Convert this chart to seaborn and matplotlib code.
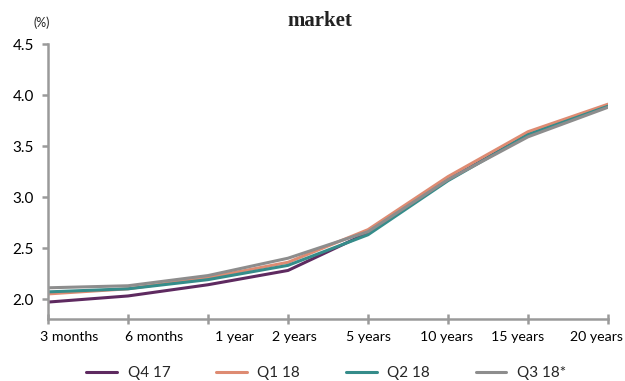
import matplotlib
matplotlib.use("Agg")
import matplotlib.pyplot as plt
import matplotlib.transforms as mtransforms
import seaborn as sns
import pandas as pd

# Yield curve by tenor for four quarters (%)
tenors = ["3 months", "6 months", "1 year", "2 years",
          "5 years", "10 years", "15 years", "20 years"]
q4_17 = [1.97, 2.03, 2.14, 2.28, 2.65, 3.17, 3.61, 3.89]
q1_18 = [2.05, 2.10, 2.21, 2.36, 2.68, 3.20, 3.64, 3.91]
q2_18 = [2.07, 2.10, 2.19, 2.33, 2.63, 3.16, 3.61, 3.89]
q3_18 = [2.11, 2.13, 2.23, 2.40, 2.66, 3.17, 3.59, 3.88]
series_names = ["Q4 17", "Q1 18", "Q2 18", "Q3 18*"]
y_ticks = [2.0, 2.5, 3.0, 3.5, 4.0, 4.5]

colors = ["#5E2A60", "#DE8B72", "#358C8A", "#8D8D8D"]
axis_color = "#9A9A9A"

# horizontal nudges (pixels) so the outer category labels stay inside the figure
label_shift_px = [21, 26, 26, 6, 0, -2, -10, -12]

frames = []
for name, vals in zip(series_names, [q4_17, q1_18, q2_18, q3_18]):
    frames.append(pd.DataFrame({"tenor": tenors, "yield": vals, "quarter": name}))
df = pd.concat(frames, ignore_index=True)

sns.set_theme(style="white")
plt.rcParams["font.family"] = ["Lato", "DejaVu Sans"]

fig = plt.figure(figsize=(6.25, 3.81), dpi=100)
ax = fig.add_axes([0.0768, 0.1627, 0.896, 0.7218])

sns.lineplot(data=df, x="tenor", y="yield", hue="quarter",
             hue_order=series_names, palette=colors, sort=False,
             linewidth=2.2, ax=ax, legend=True)

ax.set_xlim(0, len(tenors) - 1)
ax.set_ylim(1.804, 4.5)
ax.set_yticks(y_ticks)
ax.set_yticklabels([f"{v:.1f}" for v in y_ticks])
ax.set_xticks(range(len(tenors)))
ax.set_xticklabels(tenors)
ax.set_xlabel("")
ax.set_ylabel("")

for side in ["top", "right"]:
    ax.spines[side].set_visible(False)
for side in ["left", "bottom"]:
    ax.spines[side].set_color(axis_color)
    ax.spines[side].set_linewidth(1.8)

ax.tick_params(axis="y", direction="out", length=4, width=1.8,
               color=axis_color, labelsize=11, labelcolor="black", pad=6, left=True)
ax.tick_params(axis="x", direction="inout", length=7, width=1.8,
               color=axis_color, labelsize=10.2, labelcolor="black", pad=5, bottom=True)

for lbl, dx in zip(ax.get_xticklabels(), label_shift_px):
    offset = mtransforms.ScaledTranslation(dx / 100, 0, fig.dpi_scale_trans)
    lbl.set_transform(lbl.get_transform() + offset)

fig.text(0.066, 0.94, "(%)", fontsize=9, ha="center", va="center")
fig.text(0.512, 0.945, "market", fontsize=15, ha="center", va="center",
         family=["Liberation Serif"], fontweight="bold", color="#222222")

handles, labels = ax.get_legend_handles_labels()
ax.legend_.remove()
fig.legend(handles, labels, loc="center", bbox_to_anchor=(0.522, 0.021),
           ncol=4, frameon=False, fontsize=11, handlelength=2.0,
           handletextpad=0.7, columnspacing=3.0)

fig.savefig("out.png", dpi=100)
